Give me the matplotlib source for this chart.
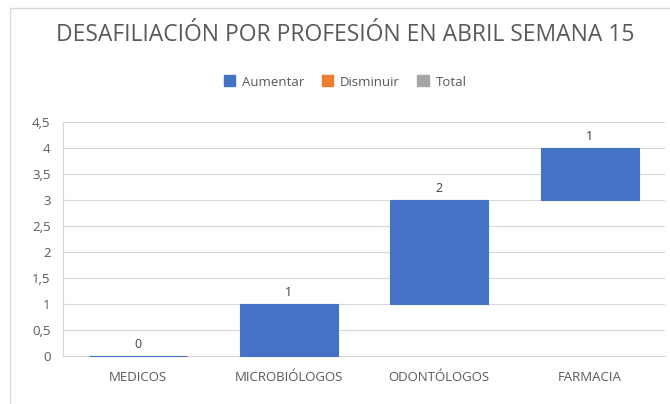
import matplotlib.pyplot as plt
from matplotlib.patches import Patch, Rectangle

categories = ["MEDICOS", "MICROBIÓLOGOS", "ODONTÓLOGOS", "FARMACIA"]
changes = [0, 1, 2, 1]
yticks = [0, 0.5, 1, 1.5, 2, 2.5, 3, 3.5, 4, 4.5]
ytick_labels = ["0", "0,5", "1", "1,5", "2", "2,5", "3", "3,5", "4", "4,5"]
legend_labels = ["Aumentar", "Disminuir", "Total"]
legend_colors = ["#4472C4", "#ED7D31", "#A5A5A5"]

plt.rcParams['font.family'] = ['Open Sans', 'DejaVu Sans']
grey = "#595959"

W, H = 670, 404
fig = plt.figure(figsize=(W / 100, H / 100), dpi=100)

# outer chart border (cut off at right and bottom like the screenshot)
fig.patches.append(Rectangle((10 / W, -0.1), 1.2, (H - 8) / H + 0.1,
                             transform=fig.transFigure, fill=False,
                             edgecolor="#D9D9D9", linewidth=1))

ax = fig.add_axes([63 / W, 1 - 356 / H, 602 / W, (356 - 122) / H])

# waterfall bottoms from running total
bottoms = []
total = 0
for c in changes:
    bottoms.append(total)
    total += c

x = list(range(len(categories)))
bars = ax.bar(x, changes, bottom=bottoms, width=0.65, color="#4472C4",
              edgecolor="#4472C4", linewidth=0.8, zorder=3)
for b in bars:
    b.set_clip_on(False)
for xi, b, c in zip(x, bottoms, changes):
    ax.text(xi, b + c + 0.1, str(c), ha="center", va="bottom",
            fontsize=9, color="#404040")

ax.set_xlim(-0.5, 3.5)
ax.set_ylim(0, 4.5)
ax.set_yticks(yticks)
ax.set_yticklabels(ytick_labels)
ax.set_xticks(x)
ax.set_xticklabels(categories)
ax.tick_params(axis="both", length=0, colors=grey, labelsize=9.5)
ax.tick_params(axis="x", pad=11)
ax.tick_params(axis="y", pad=9)
ax.grid(axis="y", color="#D9D9D9", linewidth=0.8)
ax.set_axisbelow(True)
for s in ["top", "right"]:
    ax.spines[s].set_visible(False)
ax.spines["left"].set_color("#D9D9D9")
ax.spines["bottom"].set_color("#D9D9D9")

fig.text(345 / W, 1 - 35 / H, "DESAFILIACIÓN POR PROFESIÓN EN ABRIL SEMANA 15",
         ha="center", va="center", fontsize=16.5, color=grey)

handles = [Patch(facecolor=c, edgecolor=c) for c in legend_colors]
fig.legend(handles, legend_labels, loc="center", ncol=3,
           bbox_to_anchor=(345 / W, 1 - 82 / H), frameon=False,
           fontsize=9.5, labelcolor=grey, handlelength=0.9, handleheight=0.9,
           handletextpad=0.5, columnspacing=1.3)

fig.savefig("out.png", dpi=100)
